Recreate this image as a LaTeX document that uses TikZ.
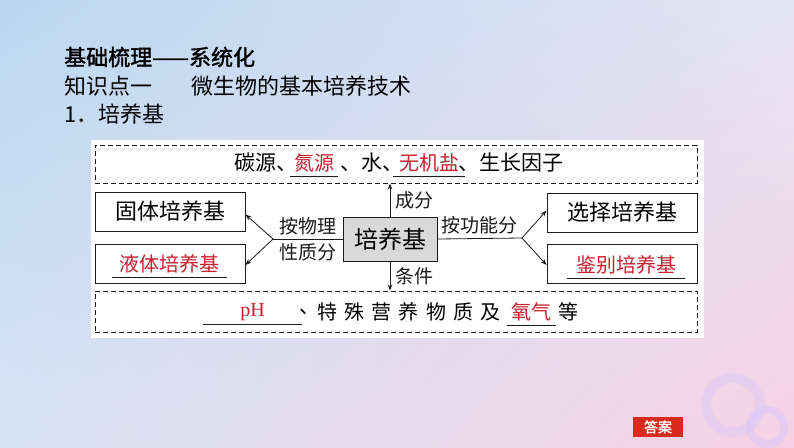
\documentclass[tikz,border=0pt]{standalone}
\usepackage{fontspec}
\setmainfont{Liberation Serif}
\newfontfamily\cjk{Noto Sans CJK SC}
\newfontfamily\cjkbold[FakeBold=1.6]{Noto Sans CJK SC}
\newfontfamily\cjkwide[LetterSpace=36]{Noto Sans CJK SC}
\usepackage{xcolor,tikz}
\usetikzlibrary{positioning,calc,arrows.meta,shadings}
\definecolor{slideRed}{HTML}{C8202E}
\definecolor{slideGreyFill}{HTML}{D9D9D9}
\definecolor{slideLine}{HTML}{1A1A1A}
\definecolor{btnRed}{HTML}{D92A1E}
\definecolor{ringLilac}{HTML}{DFCAF5}
\definecolor{bgBlue}{HTML}{BAD7F0}
\definecolor{bgLilac}{HTML}{E4E4F4}
\definecolor{bgPale}{HTML}{D8E4F5}
\definecolor{bgPink}{HTML}{F7D1E4}
\tikzset{
  head text/.style={
    anchor=west, inner sep=0pt, text=black,
  },
  kind box/.style={
    rectangle, draw=slideLine, fill=white, line width=1pt,
    minimum width=150pt, minimum height=39pt, inner sep=0pt,
    font=\cjk\fontsize{22}{26}\selectfont,
  },
  core box/.style={
    rectangle, draw=slideLine, fill=slideGreyFill, line width=1pt,
    minimum width=94pt, minimum height=44pt, inner sep=0pt,
    font=\cjk\fontsize{24}{28}\selectfont,
  },
  dash box/.style={
    rectangle, draw=slideLine, line width=1pt,
    dash pattern=on 5pt off 3pt,
    minimum width=602pt, inner sep=0pt,
  },
  line text/.style={
    anchor=west, inner sep=0pt,
    font=\cjk\fontsize{21}{25}\selectfont,
  },
  blank/.style={
    text=slideRed, inner xsep=0pt, inner ysep=4pt,
    font=\cjk\fontsize{20}{24}\selectfont,
  },
  blank line/.style={
    line width=1pt, color=slideLine,
  },
  branch line/.style={
    line width=0.8pt, color=slideLine,
  },
  branch arrow/.style={
    -{Stealth[length=6pt, width=4.5pt]},
    line width=0.8pt, color=slideLine,
  },
  branch label/.style={
    inner sep=4pt, font=\cjk\fontsize{19}{22}\selectfont,
  },
}

\begin{document}
\begin{tikzpicture}[x=1pt, y=-1pt]

\useasboundingbox (0,0) rectangle (794,447);

% --- BACKGROUND ---
\shade[upper left=bgBlue, upper right=bgLilac, lower left=bgPale, lower right=bgPink]
  (0,0) rectangle (794,447);
\draw[ringLilac, opacity=0.6, line width=10pt] (733,405) circle (27);
\draw[ringLilac, opacity=0.7, line width=8pt] (767,427) circle (17);
\fill[white] (91,140) rectangle (704,338);

% --- HEADINGS ---
\node[head text, font=\cjkbold\fontsize{22}{26}\selectfont] (title) at (64,57)
  {基础梳理——系统化};
\node[head text, font=\cjk\fontsize{22}{26}\selectfont] (topic) at (64,86)
  {知识点一\hspace{39pt}微生物的基本培养技术};
\node[head text, font=\cjk\fontsize{22}{26}\selectfont] (item) at (64,114)
  {1．培养基};

% --- DASHED ROWS ---
\node[dash box, minimum height=38pt] (comp) at (396,164) {};
\node[dash box, minimum height=41pt] (cond) at (396,311.5) {};

% --- TOP ROW TEXT ---
\node[line text] (t1) at (234,163) {碳源、};
\node[blank, minimum width=48pt] (bN) at (314,163) {氮源};
\node[line text] (t2) at (340,163) {、水、};
\node[blank, minimum width=72pt] (bS) at (429,163) {无机盐};
\node[line text] (t3) at (458,163) {、生长因子};

% --- BOTTOM ROW TEXT ---
\node[blank, minimum width=99pt, font=\fontsize{20}{24}\selectfont] (bP) at (252.5,312) {pH};
\node[line text, font=\cjk\fontsize{20}{24}\selectfont] (u1) at (299,312) {、};
\node[line text, font=\cjkwide\fontsize{20}{24}\selectfont] (u2) at (317,312) {特殊营养物质及};
\node[blank, minimum width=49pt] (bO) at (531.5,312) {氧气};
\node[line text, font=\cjk\fontsize{20}{24}\selectfont] (u3) at (558,312) {等};

\foreach \b in {bN,bS,bP,bO}
  \draw[blank line] (\b.south west) -- (\b.south east);

% --- CENTRE AND BRANCH BOXES ---
\node[core box] (core) at (390,239) {培养基};
\node[kind box] (solid) at (170,211.5) {固体培养基};
\node[kind box] (liquid) at (170,263.5) {};
\node[blank, minimum width=115pt] (bL) at (169.5,263.5) {液体培养基};
\node[kind box] (select) at (622,212.5) {选择培养基};
\node[kind box] (ident) at (622,263.5) {};
\node[blank, minimum width=118pt] (bI) at (626,264.5) {鉴别培养基};

\foreach \b in {bL,bI}
  \draw[blank line] (\b.south west) -- (\b.south east);

\coordinate (lsplit) at (273,239);
\coordinate (rsplit) at (522,238);

% --- ARROWS WITH LABELS ---
\draw[branch arrow] (core.north) -- (core.north |- comp.south)
  node[midway, right, branch label, inner sep=5pt] {成分};
\draw[branch arrow] (core.south) -- (core.south |- cond.north)
  node[midway, right, branch label, inner sep=5pt] {条件};

\draw[branch line] (core.west) -- (lsplit)
  node[midway, above, branch label] {按物理}
  node[midway, below, branch label] {性质分};
\draw[branch arrow] (lsplit) -- ([yshift=-3pt]solid.east);
\draw[branch arrow] (lsplit) -- ([yshift=-1.5pt]liquid.east);

\draw[branch line] (core.east) -- (rsplit)
  node[midway, above, branch label] {按功能分};
\draw[branch arrow] (rsplit) -- ([yshift=2pt]select.west);
\draw[branch arrow] (rsplit) -- ([yshift=-1.5pt]ident.west);

% --- ANSWER BUTTON ---
\node[rectangle, fill=btnRed, text=white, minimum width=50pt, minimum height=20pt,
  inner sep=0pt, font=\cjkbold\fontsize{14}{16}\selectfont] (answer) at (658,427) {答案};

\end{tikzpicture}
\end{document}
